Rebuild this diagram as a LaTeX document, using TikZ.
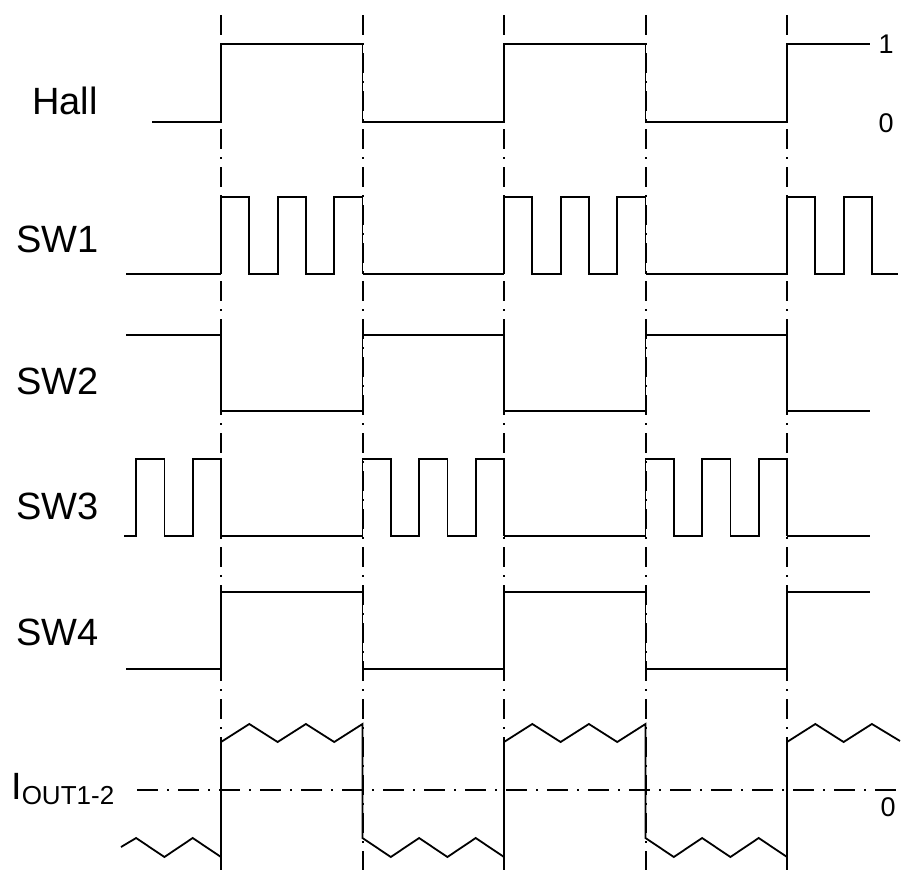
\documentclass[tikz,border=0pt]{standalone}
\usepackage{fontspec}
\setmainfont{Liberation Sans}
\begin{document}
\begin{tikzpicture}[x=1pt,y=-1pt,
    sig/.style={line width=1.8pt, line join=miter},
    mark line/.style={line width=2pt, dash pattern=on 20pt off 8pt on 2pt off 8pt},
    zero line/.style={line width=1.8pt, dash pattern=on 21pt off 9pt on 2pt off 9pt},
    lbl/.style={font=\fontsize{38}{44}\selectfont, anchor=base west, inner sep=0pt},
    val/.style={font=\fontsize{27}{31}\selectfont, inner sep=0pt}]
    \useasboundingbox (0,0) rectangle (902,870);
    % commutation instants
    \foreach \t in {221,362.5,504,645.5,787}
        \draw[mark line] (\t,15) -- (\t,870);
    % Hall
    \node[lbl] (hall) at (32,114) {Hall};
    \draw[sig] (152,122) -- (221,122) -- (221,44) -- (362.5,44) -- (362.5,122) -- (504,122)
        -- (504,44) -- (645.5,44) -- (645.5,122) -- (787,122) -- (787,44) -- (870,44);
    \node[val] (one) at (886,44) {1};
    \node[val] (zero) at (886,123) {0};
    % SW1
    \node[lbl] (sw1) at (16,252) {SW1};
    \draw[sig] (126,274) -- (221,274);
    \foreach \t in {221,504}
        \draw[sig] (\t,274) -- (\t,197) -- ++(28.3,0) -- ++(0,77) -- ++(28.3,0) -- ++(0,-77)
            -- ++(28.3,0) -- ++(0,77) -- ++(28.3,0) -- ++(0,-77) -- ++(28.3,0) -- ++(0,77);
    \draw[sig] (362.5,274) -- (504,274);
    \draw[sig] (645.5,274) -- (787,274) -- (787,197) -- ++(28.3,0) -- ++(0,77) -- ++(28.3,0)
        -- ++(0,-77) -- ++(28.3,0) -- ++(0,77) -- (898,274);
    % SW2
    \node[lbl] (sw2) at (16,394) {SW2};
    \draw[sig] (126,335) -- (221,335) -- (221,411) -- (362.5,411) -- (362.5,335) -- (504,335)
        -- (504,411) -- (645.5,411) -- (645.5,335) -- (787,335) -- (787,411) -- (870,411);
    % SW3
    \node[lbl] (sw3) at (16,519) {SW3};
    \draw[sig] (124,536) -- (136.1,536) -- (136.1,459) -- (164.4,459) -- (164.4,536)
        -- (192.7,536) -- (192.7,459) -- (221,459) -- (221,536) -- (362.5,536);
    \foreach \t in {362.5,645.5}
        \draw[sig] (\t,536) -- (\t,459) -- ++(28.3,0) -- ++(0,77) -- ++(28.3,0) -- ++(0,-77)
            -- ++(28.3,0) -- ++(0,77) -- ++(28.3,0) -- ++(0,-77) -- ++(28.3,0) -- ++(0,77);
    \draw[sig] (504,536) -- (645.5,536);
    \draw[sig] (787,536) -- (870,536);
    % SW4
    \node[lbl] (sw4) at (16,645) {SW4};
    \draw[sig] (126,669) -- (221,669) -- (221,592) -- (362.5,592) -- (362.5,669) -- (504,669)
        -- (504,592) -- (645.5,592) -- (645.5,669) -- (787,669) -- (787,592) -- (870,592);
    % output current
    \node[lbl] (iout) at (11,799) {I\raisebox{-5pt}{\fontsize{26}{30}\selectfont OUT1-2}};
    \draw[zero line] (137,790) -- (902,790);
    \node[val] (izero) at (888,807) {0};
    \draw[sig] (121,847) -- (136.1,838) -- (164.4,857) -- (192.7,838) -- (221,857) -- (221,742)
        -- ++(28.3,-18) -- ++(28.3,18) -- ++(28.3,-18) -- ++(28.3,18) -- ++(28.3,-18)
        -- ++(0,114) -- ++(28.3,19) -- ++(28.3,-19) -- ++(28.3,19) -- ++(28.3,-19) -- ++(28.3,19)
        -- ++(0,-115) -- ++(28.3,-18) -- ++(28.3,18) -- ++(28.3,-18) -- ++(28.3,18) -- ++(28.3,-18)
        -- ++(0,114) -- ++(28.3,19) -- ++(28.3,-19) -- ++(28.3,19) -- ++(28.3,-19) -- ++(28.3,19)
        -- ++(0,-115) -- ++(28.3,-18) -- ++(28.3,18) -- ++(28.3,-18) -- (900,741);
\end{tikzpicture}
\end{document}
